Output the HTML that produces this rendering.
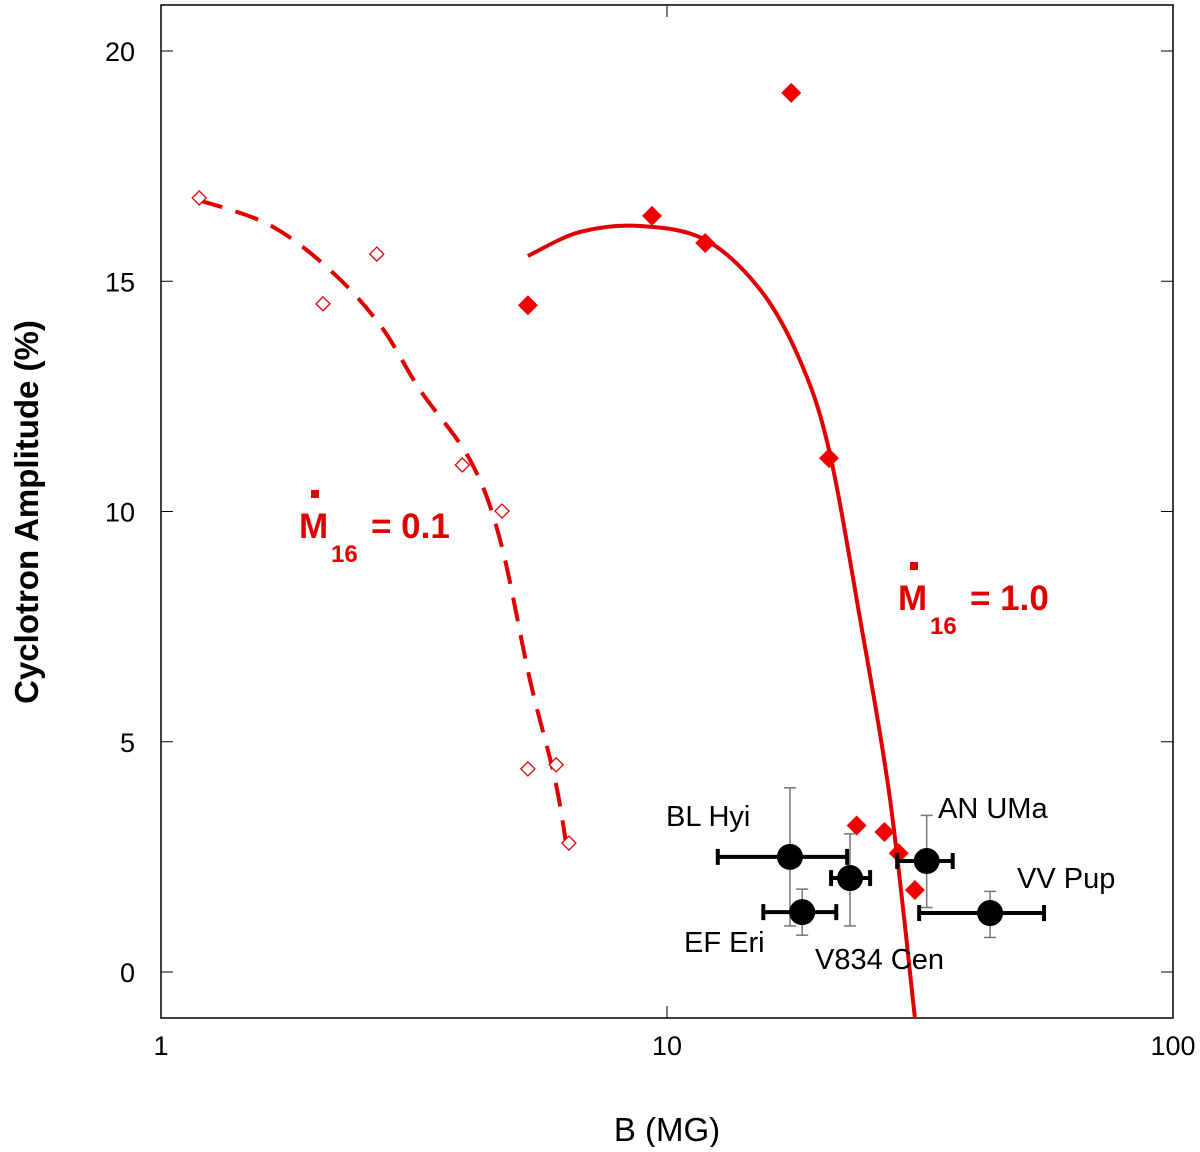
<!DOCTYPE html>
<html><head><meta charset="utf-8"><style>
body{margin:0;background:#fff}
svg text{font-family:"Liberation Sans",Arial,sans-serif}
</style></head><body>
<svg id="chart" width="1200" height="1147" xmlns="http://www.w3.org/2000/svg"></svg>
<script>
const filledX=[5.31,9.34,11.9,17.6,20.9,23.7,26.9,28.7,30.9];
const filledY=[14.48,16.42,15.83,19.09,11.16,3.18,3.04,2.58,1.78];
const openX=[1.19,2.09,2.67,3.94,4.72,5.31,6.04,6.40];
const openY=[16.81,14.51,15.59,11.01,10.01,4.41,4.50,2.80];
const solidX=[5.31,6.73,8.85,11.9,15.3,18.3,20.9,24.1,27.6,30.9];
const solidY=[15.55,16.07,16.2,15.9,14.81,13.29,11.34,7.64,3.74,-1.0];
const dashX=[1.19,1.64,2.16,2.71,3.25,4.08,4.68,5.36,6.01,6.37];
const dashY=[16.76,16.22,15.24,14.05,12.64,11.12,9.38,6.34,4.17,2.54];
const objNames=["BL Hyi","V834 Cen","EF Eri","AN UMa","VV Pup"];
const objX=[17.5,23.0,18.5,32.6,43.5];
const objY=[2.5,2.04,1.30,2.41,1.28];
const objXlo=[12.6,21.1,15.5,28.5,31.5];
const objXhi=[22.7,25.2,21.6,36.7,55.6];
const objYlo=[1.0,1.0,0.8,1.4,0.75];
const objYhi=[4.0,3.0,1.8,3.4,1.75];
const xTicks=[1,10,100];
const yTicks=[0,5,10,15,20];

const L=161,R=1173,T=5,B=1018;
const X=v=>L+Math.log10(v)*(R-L)/2;
const Y=v=>972-v*46.05;
const svg=document.getElementById('chart');
const NS='http://www.w3.org/2000/svg';
function mk(tag,attrs,name,parent){const e=document.createElementNS(NS,tag);for(const k in attrs)e.setAttribute(k,attrs[k]);


(parent||svg).appendChild(e);return e;}
mk('rect',{x:L,y:T,width:R-L,height:B-T,fill:'none',stroke:'#000','stroke-width':1.5},'plot-frame');
xTicks.forEach(t=>{const x=X(t);
mk('line',{x1:x,x2:x,y1:B,y2:B-12,stroke:'#000'},'x-tick');
mk('line',{x1:x,x2:x,y1:T,y2:T+12,stroke:'#000'},'x-tick-top');
const tx=mk('text',{x:x,y:B+37,'font-size':27,'text-anchor':'middle'},'x-tick-label');tx.textContent=t;});
yTicks.forEach(t=>{const y=Y(t);
mk('line',{x1:L,x2:L+12,y1:y,y2:y,stroke:'#000'},'y-tick');
mk('line',{x1:R,x2:R-12,y1:y,y2:y,stroke:'#000'},'y-tick-right');
const tx=mk('text',{x:L-26,y:y+10,'font-size':27,'text-anchor':'end'},'y-tick-label');tx.textContent=t;});
let t=mk('text',{x:667,y:1141,'font-size':33,'text-anchor':'middle'},'x-axis-title');t.textContent='B (MG)';
t=mk('text',{x:0,y:0,'font-size':33,'font-weight':'bold','text-anchor':'middle',transform:'translate(38,512) rotate(-90)'},'y-axis-title');t.textContent='Cyclotron Amplitude (%)';
function smooth(xs,ys){const p=xs.map((v,i)=>[X(v),Y(ys[i])]);let d=`M${p[0][0]},${p[0][1]}`;
for(let i=0;i<p.length-1;i++){const p0=p[i-1]||p[i],p1=p[i],p2=p[i+1],p3=p[i+2]||p2;
d+=` C${p1[0]+(p2[0]-p0[0])/6},${p1[1]+(p2[1]-p0[1])/6} ${p2[0]-(p3[0]-p1[0])/6},${p2[1]-(p3[1]-p1[1])/6} ${p2[0]},${p2[1]}`;}return d;}
mk('path',{d:smooth(solidX,solidY),fill:'none',stroke:'#e00000','stroke-width':4},'fit-line-mdot-1');
mk('path',{d:smooth(dashX,dashY),fill:'none',stroke:'#e00000','stroke-width':4,'stroke-dasharray':'24,14'},'fit-line-mdot-0.1');
openX.forEach((v,i)=>{const x=X(v),y=Y(openY[i]);
mk('polygon',{points:`${x},${y-7} ${x+7},${y} ${x},${y+7} ${x-7},${y}`,fill:'#fff',stroke:'#e00000','stroke-width':1.3},'open-diamond');});
filledX.forEach((v,i)=>{const x=X(v),y=Y(filledY[i]);
mk('polygon',{points:`${x},${y-10} ${x+10},${y} ${x},${y+10} ${x-10},${y}`,fill:'#f00000'},'filled-diamond');});
objX.forEach((v,i)=>{const x=X(v),y=Y(objY[i]);
mk('line',{x1:x,x2:x,y1:Y(objYlo[i]),y2:Y(objYhi[i]),stroke:'#777','stroke-width':1.5},'y-error-bar');
[objYlo[i],objYhi[i]].forEach(e=>mk('line',{x1:x-6,x2:x+6,y1:Y(e),y2:Y(e),stroke:'#777','stroke-width':1.5},'y-error-cap'));
mk('line',{x1:X(objXlo[i]),x2:X(objXhi[i]),y1:y,y2:y,stroke:'#000','stroke-width':4},'x-error-bar');
[objXlo[i],objXhi[i]].forEach(e=>mk('line',{x1:X(e),x2:X(e),y1:y-8,y2:y+8,stroke:'#000','stroke-width':4},'x-error-cap'));
mk('circle',{cx:x,cy:y,r:13,fill:'#000'},'object-point');});
const labs=[["BL Hyi",666,826],["AN UMa",938,818],["VV Pup",1017,888],["EF Eri",684,952],["V834 Cen",815,969]];
labs.forEach(l=>{const e=mk('text',{x:l[1],y:l[2],'font-size':29},'object-label');e.textContent=l[0];});
function mlab(x,y,val,name){const g=mk('g',{},name);
mk('rect',{x:x+12,y:y-48,width:8,height:8,fill:'#e00000'},'mdot-dot',g);
let e=mk('text',{x:x,y:y,'font-size':35,'font-weight':'bold',fill:'#e00000'},'mdot-M',g);e.textContent='M';
e=mk('text',{x:x+32,y:y+24,'font-size':24,'font-weight':'bold',fill:'#e00000'},'mdot-sub',g);e.textContent='16';
e=mk('text',{x:x+72,y:y,'font-size':35,'font-weight':'bold',fill:'#e00000'},'mdot-value',g);e.textContent='= '+val;}
mlab(299,538,'0.1','label-mdot-0.1');
mlab(898,610,'1.0','label-mdot-1.0');
</script>
</body></html>
